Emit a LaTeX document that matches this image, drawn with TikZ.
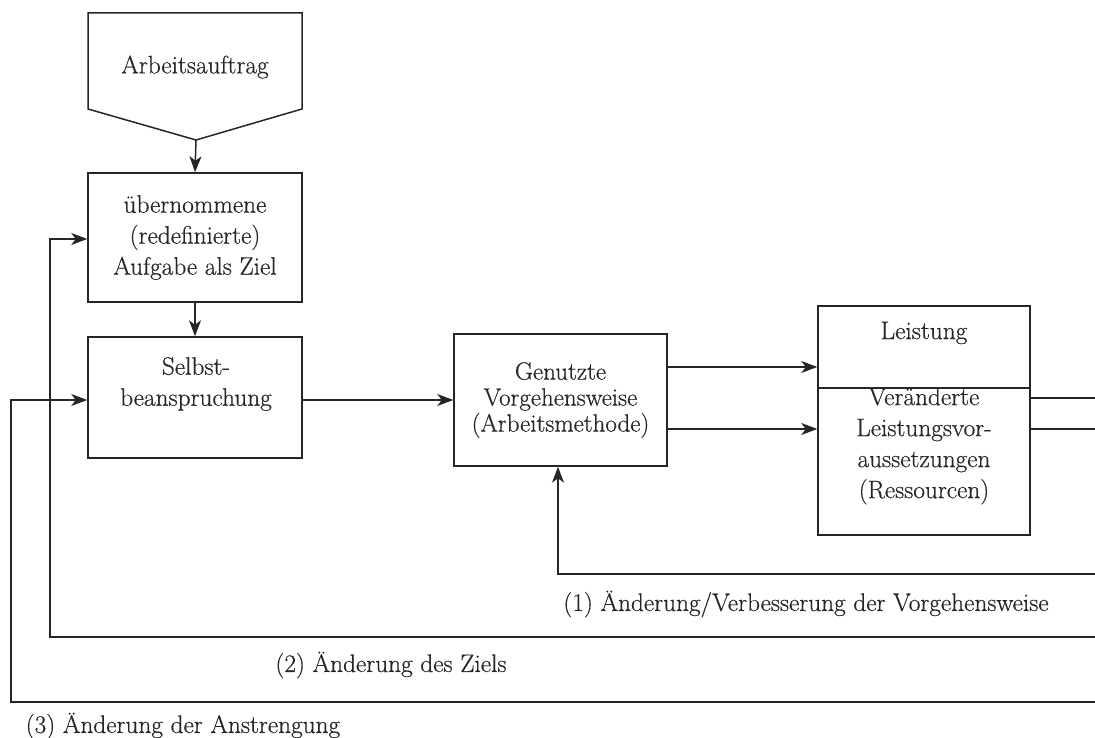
\documentclass[tikz,border=0pt]{standalone}
\usepackage{fontspec}
\setmainfont{Latin Modern Roman}[FakeBold=0.5]
\usetikzlibrary{arrows.meta}
\definecolor{ink}{RGB}{38,38,38}
\begin{document}
\begin{tikzpicture}[x=1pt,y=-1pt,
  line width=1.5pt,
  ln/.style={draw=ink,line width=1.5pt,line join=miter},
  box/.style={draw=ink,line width=1.5pt,inner sep=0pt,align=center,text=ink,
    font=\fontsize{25.3}{31}\selectfont},
  txt/.style={inner sep=0pt,align=center,text=ink,font=\fontsize{25.3}{31}\selectfont},
  arr/.style={ln,-{Stealth[length=16pt,width=12pt,inset=4.5pt]}},
]
\useasboundingbox (0,0) rectangle (1095,738);
% helper coordinates
\coordinate (y239) at (0,239);
\coordinate (y400) at (0,400);
\coordinate (y367) at (0,367);
\coordinate (y429) at (0,429);
\coordinate (y388) at (0,388);
% pentagon
\coordinate (tip) at (196,140);
\draw[ln] (88,13) -- (302,13) -- (302,109) -- (tip) -- (88,109) -- cycle;
\node[txt] (auftrag) at (195,67) {Arbeitsauftrag};
% boxes
\node[box,minimum width=214,minimum height=129] (ziel) at (195,237.5)
  {übernommene\\(redefinierte)\\Aufgabe als Ziel};
\node[box,minimum width=214,minimum height=121] (selbst) at (195,397.5) {};
\node[txt] (selbsttxt) at (196,384) {Selbst-\\beanspruchung};
\node[box,minimum width=213,minimum height=132,font=\fontsize{25}{26}\selectfont] (methode) at (560.5,400)
  {Genutzte\\Vorgehensweise\\(Arbeitsmethode)};
\node[box,minimum width=212,minimum height=229] (leist) at (924,420.5) {};
\draw[ln] (leist.west |- y388) -- (leist.east |- y388);
\node[txt] (leisttxt) at (924,333) {Leistung};
\node[txt] (vorauss) at (924,446) {Veränderte\\Leistungsvor-\\aussetzungen\\(Ressourcen)};
% forward arrows
\draw[arr] (tip) -- (ziel.north);
\draw[arr] (ziel.south) -- (selbst.north);
\draw[arr] (selbst.east |- y400) -- (methode.west |- y400);
\draw[arr] (methode.east |- y367) -- (leist.west |- y367);
\draw[arr] (methode.east |- y429) -- (leist.west |- y429);
% outgoing lines
\coordinate (o1) at (1095,398);
\coordinate (o2) at (1095,429);
\draw[ln] (leist.east |- o1) -- (o1);
\draw[ln] (leist.east |- o2) -- (o2);
% feedback loops
\coordinate (f1r) at (1095,574);
\coordinate (f1c) at (558,574);
\draw[arr] (f1r) -- (f1c) -- (f1c |- methode.south);
\coordinate (f2r) at (1095,637);
\coordinate (f2c) at (50,637);
\draw[arr] (f2r) -- (f2c) -- (f2c |- y239) -- (ziel.west |- y239);
\coordinate (f3r) at (1095,702);
\coordinate (f3c) at (11,702);
\draw[arr] (f3r) -- (f3c) -- (f3c |- y400) -- (selbst.west |- y400);
% labels
\node[txt] (l1) at (806,604) {(1) Änderung/Verbesserung der Vorgehensweise};
\node[txt] (l2) at (391,665) {(2) Änderung des Ziels};
\node[txt,anchor=west] (l3) at (25,726) {(3) Änderung der Anstrengung};
\end{tikzpicture}
\end{document}
